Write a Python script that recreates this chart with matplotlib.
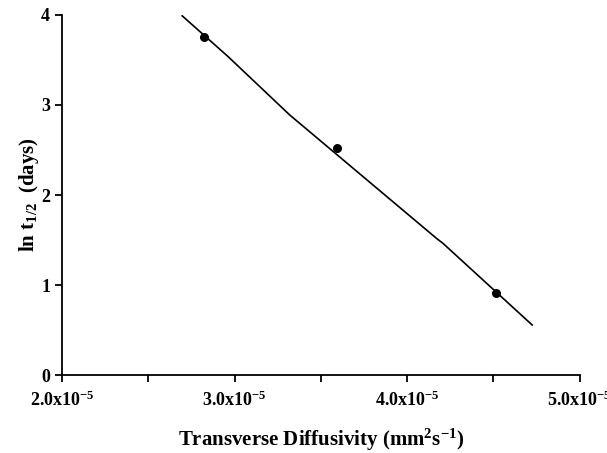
import numpy as np
import matplotlib
matplotlib.use("Agg")
import matplotlib.pyplot as plt
from matplotlib.ticker import FixedLocator, FuncFormatter

plt.rcParams["font.family"] = "Liberation Serif"
plt.rcParams["font.weight"] = "bold"
plt.rcParams["mathtext.fontset"] = "custom"
plt.rcParams["mathtext.rm"] = "Liberation Serif:bold"
plt.rcParams["mathtext.it"] = "Liberation Serif:bold"
plt.rcParams["mathtext.bf"] = "Liberation Serif:bold"
plt.rcParams["mathtext.default"] = "regular"

# -----------------------------
# Data (diffusivity in mm^2 s^-1)
# -----------------------------
diff_pts = [2.826e-5, 3.596e-5, 4.513e-5]
lnt_pts = [3.76, 2.52, 0.91]

diff_line = [2.697e-5, 2.963e-5, 3.320e-5, 4.170e-5, 4.208e-5, 4.725e-5]
lnt_line = [3.99, 3.537, 2.889, 1.519, 1.463, 0.556]

x_major = [2.0e-5, 3.0e-5, 4.0e-5, 5.0e-5]
x_minor = [2.5e-5, 3.5e-5, 4.5e-5]
y_major = [0, 1, 2, 3, 4]

# -----------------------------
# Figure
# -----------------------------
fig = plt.figure(figsize=(6.07, 4.53), dpi=100)
ax = fig.add_axes([0.102, 0.172, 0.853, 0.795])

ax.plot(diff_line, lnt_line, color="black", lw=1.2)
ax.scatter(diff_pts, lnt_pts, s=30, color="black", zorder=5)

ax.set_xlim(2.0e-5, 5.0e-5)
ax.set_ylim(0, 4)

ax.xaxis.set_major_locator(FixedLocator(x_major))
ax.xaxis.set_minor_locator(FixedLocator(x_minor))
ax.yaxis.set_major_locator(FixedLocator(y_major))
ax.xaxis.set_major_formatter(FuncFormatter(lambda v, p: r"%.1fx10$^{-5}$" % (v * 1e5)))

for side in ["top", "right"]:
    ax.spines[side].set_visible(False)
for side in ["left", "bottom"]:
    ax.spines[side].set_linewidth(1.3)

ax.tick_params(axis="both", which="major", direction="out", length=5, width=1.3,
               labelsize=13)
ax.tick_params(axis="x", which="minor", direction="out", length=5, width=1.3)
ax.tick_params(axis="x", pad=6)

for lab in ax.get_xticklabels() + ax.get_yticklabels():
    lab.set_fontweight("bold")

ax.set_xlabel(r"Transverse Diffusivity (mm$^2$s$^{-1}$)", fontsize=15,
              fontweight="bold", labelpad=12)
ax.set_ylabel(r"ln t$_{1/2}$  (days)", fontsize=15, fontweight="bold", labelpad=0)

plt.savefig("out.png", dpi=100)
